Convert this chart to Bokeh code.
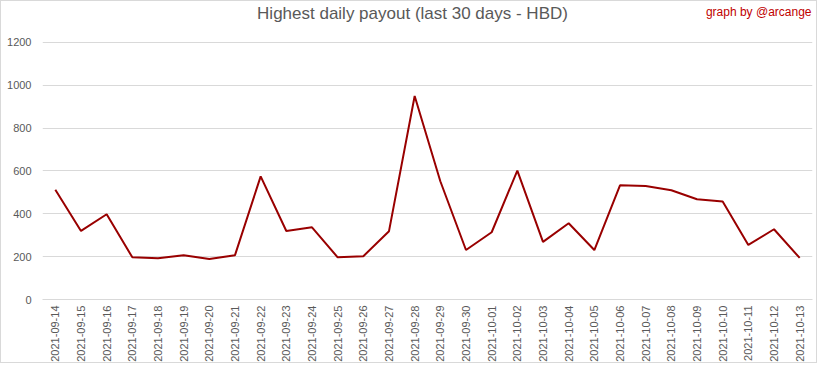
import math
from bokeh.plotting import figure
from bokeh.models import Label, FactorRange, Range1d, FixedTicker
from bokeh.embed import file_html
from bokeh.resources import INLINE

dates = [
    "2021-09-14", "2021-09-15", "2021-09-16", "2021-09-17", "2021-09-18",
    "2021-09-19", "2021-09-20", "2021-09-21", "2021-09-22", "2021-09-23",
    "2021-09-24", "2021-09-25", "2021-09-26", "2021-09-27", "2021-09-28",
    "2021-09-29", "2021-09-30", "2021-10-01", "2021-10-02", "2021-10-03",
    "2021-10-04", "2021-10-05", "2021-10-06", "2021-10-07", "2021-10-08",
    "2021-10-09", "2021-10-10", "2021-10-11", "2021-10-12", "2021-10-13",
]
payout = [
    512, 320, 398, 197, 193, 207, 189, 207, 575, 320,
    337, 197, 202, 319, 950, 552, 231, 314, 602, 269,
    356, 231, 533, 530, 510, 468, 458, 255, 328, 194,
]
y_ticks = [0, 200, 400, 600, 800, 1000, 1200]

title_text = "Highest daily payout (last 30 days - HBD)"
credit_text = "graph by @arcange"

FONT = "Liberation Sans"
GRAY = "#595959"

# the frame reaches up into the header band so that the header texts are drawn
# inside it; grid and ticks stop at the last tick (1200)
p = figure(
    x_range=FactorRange(*dates),
    y_range=Range1d(0, 1368),
    width=817, height=363,
    output_backend="svg", toolbar_location=None,
    title_location=None,
    min_border_left=41, min_border_right=6,
    min_border_top=5, min_border_bottom=65,
)
p.outline_line_color = None
p.background_fill_color = "white"
p.border_fill_color = "white"
p.styles = {"border": "1px solid #d9d9d9", "box-sizing": "border-box"}

p.line(x=dates, y=payout, line_color="#990000", line_width=2)

p.xgrid.grid_line_color = None
p.ygrid.grid_line_color = "#d9d9d9"
p.ygrid.grid_line_width = 1
p.yaxis.ticker = FixedTicker(ticks=y_ticks)

for ax in (p.xaxis, p.yaxis):
    ax.major_tick_line_color = None
    ax.minor_tick_line_color = None
    ax.major_tick_out = 0
    ax.major_tick_in = 0
    ax.major_label_text_font = FONT
    ax.major_label_text_font_size = "11px"
    ax.major_label_text_color = GRAY

p.yaxis.axis_line_color = None
p.yaxis.major_label_standoff = 11
p.xaxis.axis_line_color = "#d9d9d9"
p.xaxis.major_label_orientation = math.pi / 2
p.xaxis.major_label_standoff = 6

title = Label(x=len(dates) / 2, y=1334, x_offset=-15,
              text=title_text, text_align="center", text_baseline="middle",
              text_font=FONT, text_font_size="17px", text_color=GRAY)
p.add_layout(title)

credit = Label(x=len(dates), y=1344, x_offset=-1,
               text=credit_text, text_align="right", text_baseline="middle",
               text_font=FONT, text_font_size="12px", text_color="#c00000")
p.add_layout(credit)

open("out.html", "w").write(file_html(p, INLINE))
